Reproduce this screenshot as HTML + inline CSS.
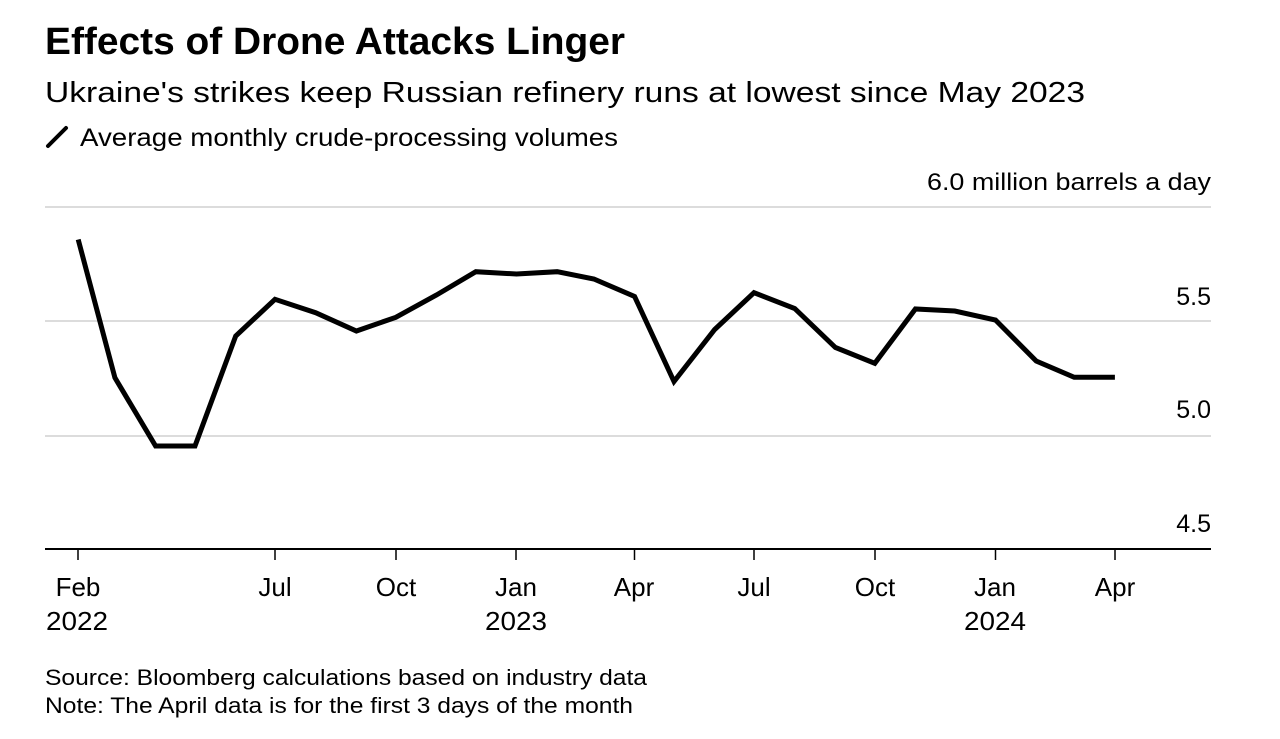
<!DOCTYPE html>
<html>
<head>
<meta charset="utf-8">
<style>
html,body{margin:0;padding:0;background:#fff;}
svg{display:block;}
text{font-family:"Liberation Sans",Arial,sans-serif;fill:#000;}
</style>
</head>
<body>
<svg width="1280" height="739" viewBox="0 0 1280 739" xmlns="http://www.w3.org/2000/svg">
<rect width="1280" height="739" fill="#fff"/>
<text x="45" y="54" font-size="38" font-weight="bold" textLength="580" lengthAdjust="spacingAndGlyphs">Effects of Drone Attacks Linger</text>
<text x="45" y="102" font-size="29" fill="#111" textLength="1040" lengthAdjust="spacingAndGlyphs">Ukraine's strikes keep Russian refinery runs at lowest since May 2023</text>
<line x1="48" y1="146" x2="66" y2="128" stroke="#000" stroke-width="4" stroke-linecap="round"/>
<text x="80" y="146" font-size="25" fill="#111" textLength="538" lengthAdjust="spacingAndGlyphs">Average monthly crude-processing volumes</text>

<text x="927" y="190" font-size="24" fill="#111" textLength="284" lengthAdjust="spacingAndGlyphs">6.0 million barrels a day</text>

<g stroke="#dcdcdc" stroke-width="2">
<line x1="45" y1="207" x2="1211" y2="207"/>
<line x1="45" y1="321" x2="1211" y2="321"/>
<line x1="45" y1="436" x2="1211" y2="436"/>
</g>
<line x1="45" y1="549" x2="1211" y2="549" stroke="#000" stroke-width="2"/>

<g font-size="25" text-anchor="end" fill="#111">
<text x="1211" y="305">5.5</text>
<text x="1211" y="418">5.0</text>
<text x="1211" y="532">4.5</text>
</g>

<g stroke="#000" stroke-width="1.5">
<line x1="78" y1="549" x2="78" y2="560"/>
<line x1="275" y1="549" x2="275" y2="560"/>
<line x1="396" y1="549" x2="396" y2="560"/>
<line x1="516" y1="549" x2="516" y2="560"/>
<line x1="634.5" y1="549" x2="634.5" y2="560"/>
<line x1="754" y1="549" x2="754" y2="560"/>
<line x1="875" y1="549" x2="875" y2="560"/>
<line x1="995.5" y1="549" x2="995.5" y2="560"/>
<line x1="1115" y1="549" x2="1115" y2="560"/>
</g>

<g font-size="26" text-anchor="middle" fill="#111">
<text x="78" y="596">Feb</text>
<text x="77" y="630" textLength="62" lengthAdjust="spacingAndGlyphs">2022</text>
<text x="275" y="596">Jul</text>
<text x="396" y="596">Oct</text>
<text x="516" y="596">Jan</text>
<text x="516" y="630" textLength="62" lengthAdjust="spacingAndGlyphs">2023</text>
<text x="634" y="596">Apr</text>
<text x="754" y="596">Jul</text>
<text x="875" y="596">Oct</text>
<text x="995" y="596">Jan</text>
<text x="995" y="630" textLength="62" lengthAdjust="spacingAndGlyphs">2024</text>
<text x="1115" y="596">Apr</text>
</g>

<polyline fill="none" stroke="#000" stroke-width="5" stroke-linejoin="miter" stroke-linecap="butt"
points="78.2,239.5 114.9,377.7 155.6,446 195,446 235.7,336 275,299.3 315.7,312.7 356.4,331 395.8,317.3 436.5,295 475.8,271.7 516.5,274 557.2,271.7 593.9,279 634.6,296.5 674,381.5 714.7,329.5 754,292.7 794.7,308.5 835.4,347.5 874.8,363.3 915.4,309 954.8,311 995.5,320 1036.2,361 1074.2,377.3 1114.9,377.3"/>

<text x="45" y="685" font-size="22" fill="#111" textLength="602" lengthAdjust="spacingAndGlyphs">Source: Bloomberg calculations based on industry data</text>
<text x="45" y="713" font-size="22" fill="#111" textLength="588" lengthAdjust="spacingAndGlyphs">Note: The April data is for the first 3 days of the month</text>
</svg>
</body>
</html>
